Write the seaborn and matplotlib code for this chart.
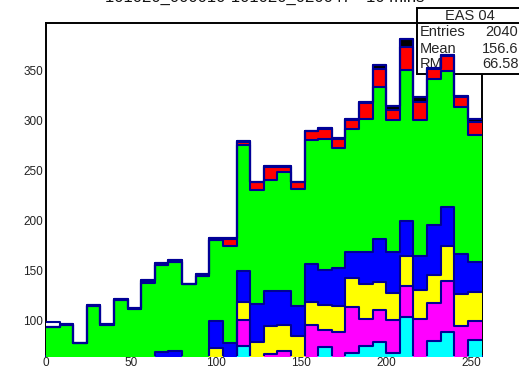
import numpy as np
import pandas as pd
import matplotlib
matplotlib.use("Agg")
import matplotlib.pyplot as plt
from matplotlib.patches import Rectangle
from matplotlib.lines import Line2D
from matplotlib.ticker import MultipleLocator
import seaborn as sns

sns.set_style("white")
plt.rcParams["font.family"] = ["Liberation Sans", "DejaVu Sans"]

# 32 bins of width 8 over [0, 256]
bin_edges = [float(e) for e in range(0, 257, 8)]
bin_centers = [e + 4 for e in bin_edges[:-1]]

# per-component counts in each bin (stack order bottom -> top: cyan ... white)
cyan = [0, 0, 0, 0, 0, 0, 0, 1, 2, 2, 2, 3, 5, 6, 75, 20,
        30, 32, 30, 55, 74, 58, 68, 75, 79, 68, 104, 58, 80, 89, 60, 81]
magenta = [4, 5, 4, 6, 5, 7, 7, 9, 10, 11, 10, 11, 15, 18, 26, 43,
           37, 38, 32, 41, 17, 31, 46, 27, 32, 33, 31, 44, 38, 51, 35, 19]
yellow = [10, 11, 9, 12, 11, 13, 14, 16, 18, 19, 16, 19, 53, 34, 18, 16,
          28, 26, 23, 23, 25, 26, 29, 35, 28, 27, 30, 29, 28, 35, 32, 29]
blue = [26, 28, 25, 30, 29, 32, 32, 34, 39, 38, 34, 30, 27, 20, 31, 38,
        35, 34, 30, 38, 35, 38, 26, 32, 43, 41, 35, 34, 50, 39, 40, 30]
green = [54, 52, 40, 67, 51, 69, 59, 78, 87, 89, 75, 82, 81, 97, 126, 114,
         111, 119, 117, 124, 131, 120, 123, 133, 152, 132, 151, 136, 146, 136, 147, 127]
red = [0, 0, 0, 0, 0, 0, 0, 2, 0, 0, 0, 0, 0, 7, 3, 8,
       13, 5, 7, 9, 10, 9, 9, 16, 18, 10, 23, 18, 10, 15, 10, 13]
black = [0, 1, 0, 1, 1, 1, 1, 1, 2, 2, 0, 2, 2, 1, 1, 0,
         1, 1, 0, 0, 1, 1, 1, 1, 4, 4, 8, 5, 1, 1, 1, 3]
white = [5, 0, 0, 0, 0, 0, 0, 0, 0, 0, 0, 0, 0, 0, 0, 0,
         0, 0, 0, 0, 0, 0, 0, 0, 0, 0, 0, 0, 0, 0, 0, 0]

components = ["white", "black", "red", "green", "blue", "yellow", "magenta", "cyan"]
counts = {"white": white, "black": black, "red": red, "green": green,
          "blue": blue, "yellow": yellow, "magenta": magenta, "cyan": cyan}
fill_colors = {"white": "#ffffff", "black": "#000000", "red": "#ff0000",
               "green": "#00ff00", "blue": "#0000ff", "yellow": "#ffff00",
               "magenta": "#ff00ff", "cyan": "#00ffff"}
outline = "#000096"

title = "101020_000010-101020_020047 - 10 mins"
stats_name = "EAS 04"
stats_rows = [("Entries", "2040"), ("Mean", "156.6"), ("RMS", "66.58")]

df = pd.concat(
    [pd.DataFrame({"x": bin_centers, "w": counts[c], "comp": c}) for c in components],
    ignore_index=True,
)

W, H = 519, 370
fig = plt.figure(figsize=(W / 100, H / 100), dpi=100)
ax = fig.add_axes([46 / W, (H - 356) / H, (481.5 - 46) / W, (356 - 22.7) / H])

# filled stacked layers
sns.histplot(data=df, x="x", weights="w", hue="comp", hue_order=components,
             palette=fill_colors, bins=bin_edges, multiple="stack",
             element="step", fill=True, alpha=1, linewidth=0,
             legend=False, ax=ax, zorder=3)
# step outlines of every cumulative layer
sns.histplot(data=df, x="x", weights="w", hue="comp", hue_order=components,
             palette={c: outline for c in components}, bins=bin_edges,
             multiple="stack", element="step", fill=False, alpha=1,
             linewidth=1.5, legend=False, ax=ax, zorder=3.1)

# statistics box
bx0, by0, by1 = 416.7 / W, 1 - 74 / H, 1 - 8.3 / H
ax.add_patch(Rectangle((bx0, by0), 0.3, by1 - by0, transform=fig.transFigure,
                       facecolor="white", edgecolor="black", linewidth=1.4,
                       zorder=2.6, clip_on=False))
ax.add_line(Line2D([bx0, 1.0], [1 - 22.7 / H] * 2, transform=fig.transFigure,
                   color="black", linewidth=1.4, zorder=2.6, clip_on=False))
ax.text(470 / W, 1 - 15.5 / H, stats_name, transform=fig.transFigure,
        ha="center", va="center", fontsize=10.5, zorder=2.7, clip_on=False)
for (lab, val), yy in zip(stats_rows, [31.7, 49.0, 63.5]):
    ax.text(420 / W, 1 - yy / H, lab, transform=fig.transFigure,
            ha="left", va="center", fontsize=10.5, zorder=2.7, clip_on=False)
    ax.text(518.5 / W, 1 - yy / H, val, transform=fig.transFigure,
            ha="right", va="center", fontsize=10.5, zorder=2.7, clip_on=False)

ax.set_xlim(0, 256)
ax.set_ylim(64.7, 398)
ax.set_xlabel("")
ax.set_ylabel("")
ax.set_axisbelow(True)
ax.set_xticks(np.arange(0, 251, 50))
ax.set_yticks(np.arange(100, 351, 50))
ax.xaxis.set_minor_locator(MultipleLocator(10))
ax.yaxis.set_minor_locator(MultipleLocator(10))
ax.tick_params(axis="both", which="major", direction="in", length=10.8,
               width=1.0, labelsize=8.5, pad=2, colors="black",
               labelcolor="#222222")
ax.tick_params(axis="both", which="minor", direction="in", length=4.8, width=1.0)
ax.tick_params(axis="x", which="major", pad=1)
for side, sp in ax.spines.items():
    sp.set_visible(True)
    sp.set_linewidth(1.4)
    sp.set_color("black")
ax.spines["bottom"].set_color(outline)

fig.text(265 / W, 1 - 1.5 / H, title, ha="center", va="baseline", fontsize=12,
         color="#111111")

fig.savefig("out.png", dpi=100)
